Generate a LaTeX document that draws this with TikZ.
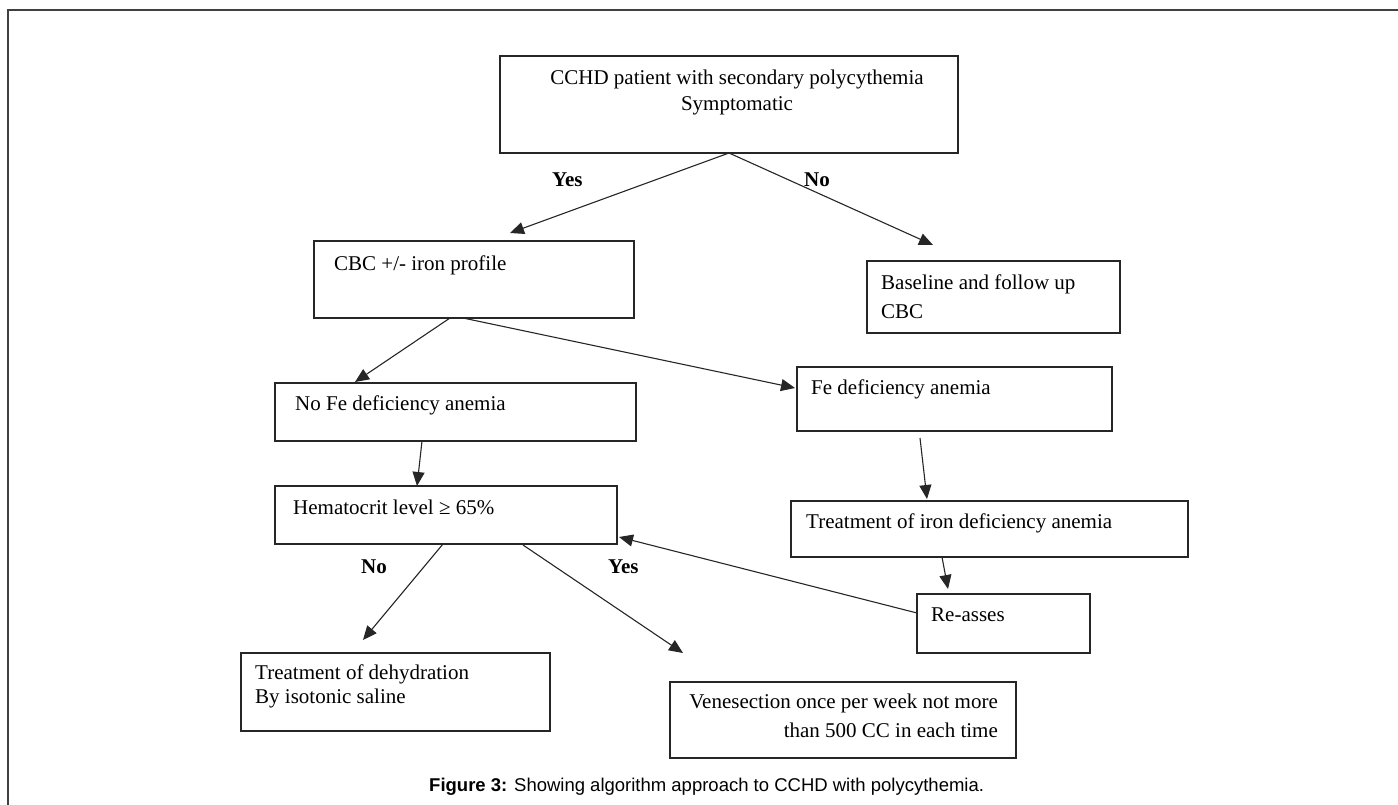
\documentclass[tikz,border=0pt]{standalone}
\usepackage{fontspec}
\setmainfont{Liberation Serif}
\newfontfamily\capfont{Liberation Sans}
\usetikzlibrary{arrows.meta,calc}
\begin{document}
\begin{tikzpicture}[x=1pt,y=-1pt,
 box/.style={draw=black!85, line width=1.3pt, anchor=north west, inner sep=0pt, outer sep=0pt},
 txt/.style={anchor=base west, inner sep=0pt, font=\fontsize{21}{25}\selectfont},
 txtr/.style={anchor=base east, inner sep=0pt, font=\fontsize{21}{25}\selectfont},
 txtc/.style={anchor=base, inner sep=0pt, font=\fontsize{21}{25}\selectfont},
 lbl/.style={anchor=base west, inner sep=0pt, font=\fontsize{21}{25}\selectfont\bfseries},
 arr/.style={draw=black!85, line width=1.1pt, -{Triangle[length=14pt,width=12pt]}}]
\useasboundingbox (0,0) rectangle (1398,805);
\draw[line width=2pt, black!75] (8,805) -- (8,10) -- (1398,10);

% boxes
\node[box, minimum width=458pt, minimum height=97pt] (top) at (500,56) {};
\node[box, minimum width=320pt, minimum height=77pt] (cbc) at (314,241) {};
\node[box, minimum width=253pt, minimum height=72pt] (base) at (867,261) {};
\node[box, minimum width=361pt, minimum height=58pt] (nofe) at (275,383) {};
\node[box, minimum width=315pt, minimum height=64pt] (fe) at (797,367) {};
\node[box, minimum width=397pt, minimum height=56pt] (treat) at (791,501) {};
\node[box, minimum width=173pt, minimum height=59pt] (reas) at (917,594) {};
\node[box, minimum width=342pt, minimum height=58pt] (hemat) at (275,486) {};
\node[box, minimum width=309pt, minimum height=78pt] (dehyd) at (241,653) {};
\node[box, minimum width=346pt, minimum height=76pt] (vene) at (670,682) {};

% texts
\node[txtc] (t1a) at (737,85) {CCHD patient with secondary polycythemia};
\node[txtc] (t1b) at (737,111) {Symptomatic};
\node[txt] (t2) at (334,270) {CBC +/- iron profile};
\node[txt] (t3a) at (881,289) {Baseline and follow up};
\node[txt] (t3b) at (881,318) {CBC};
\node[txt] (t4) at (295,410) {No Fe deficiency anemia};
\node[txt] (t5) at (811,394) {Fe deficiency anemia};
\node[txt] (t6) at (806,528) {Treatment of iron deficiency anemia};
\node[txt] (t7) at (931,621) {Re-asses};
\node[txt] (t8) at (293,514) {Hematocrit level ≥ 65\%};
\node[txt] (t9a) at (255,679) {Treatment of dehydration};
\node[txt] (t9b) at (255,703) {By isotonic saline};
\node[txtr] (t10a) at (998,708) {Venesection once per week not more};
\node[txtr] (t10b) at (998,737) {than 500 CC in each time};

% labels
\node[lbl] (l1) at (552,187) {Yes};
\node[lbl] (l2) at (804,187) {No};
\node[lbl] (l3) at (361,573) {No};
\node[lbl] (l4) at (608,573) {Yes};

% arrows
\draw[arr] ($(top.south west)+(229,0)$) -- ($(cbc.north west)+(196,-8)$);
\draw[arr] ($(top.south west)+(229,0)$) -- ($(base.north west)+(66,-16)$);
\draw[arr] ($(cbc.south west)+(136,0)$) -- ($(nofe.north west)+(80,-1)$);
\draw[arr] ($(cbc.south west)+(149,0)$) -- ($(fe.north west)+(-2,21)$);
\draw[arr] ($(nofe.south west)+(147,0)$) -- ($(hemat.north west)+(142,0)$);
\draw[arr] ($(fe.south west)+(123,7)$) -- ($(treat.north west)+(136,-2)$);
\draw[arr] ($(treat.south west)+(151,0)$) -- ($(reas.north west)+(31,-5)$);
\draw[arr] ($(reas.north west)+(0,19)$) -- ($(hemat.north east)+(2,51)$);
\draw[arr] ($(hemat.south west)+(168,0)$) -- ($(dehyd.north west)+(122,-13)$);
\draw[arr] ($(hemat.south west)+(248,1)$) -- ($(vene.north west)+(13,-29)$);

% caption
\node[anchor=base west, inner sep=0pt, font=\capfont\fontsize{18.5}{22}\selectfont] (cap) at (429,791) {\textbf{Figure 3:} Showing algorithm approach to CCHD with polycythemia.};
\end{tikzpicture}
\end{document}
